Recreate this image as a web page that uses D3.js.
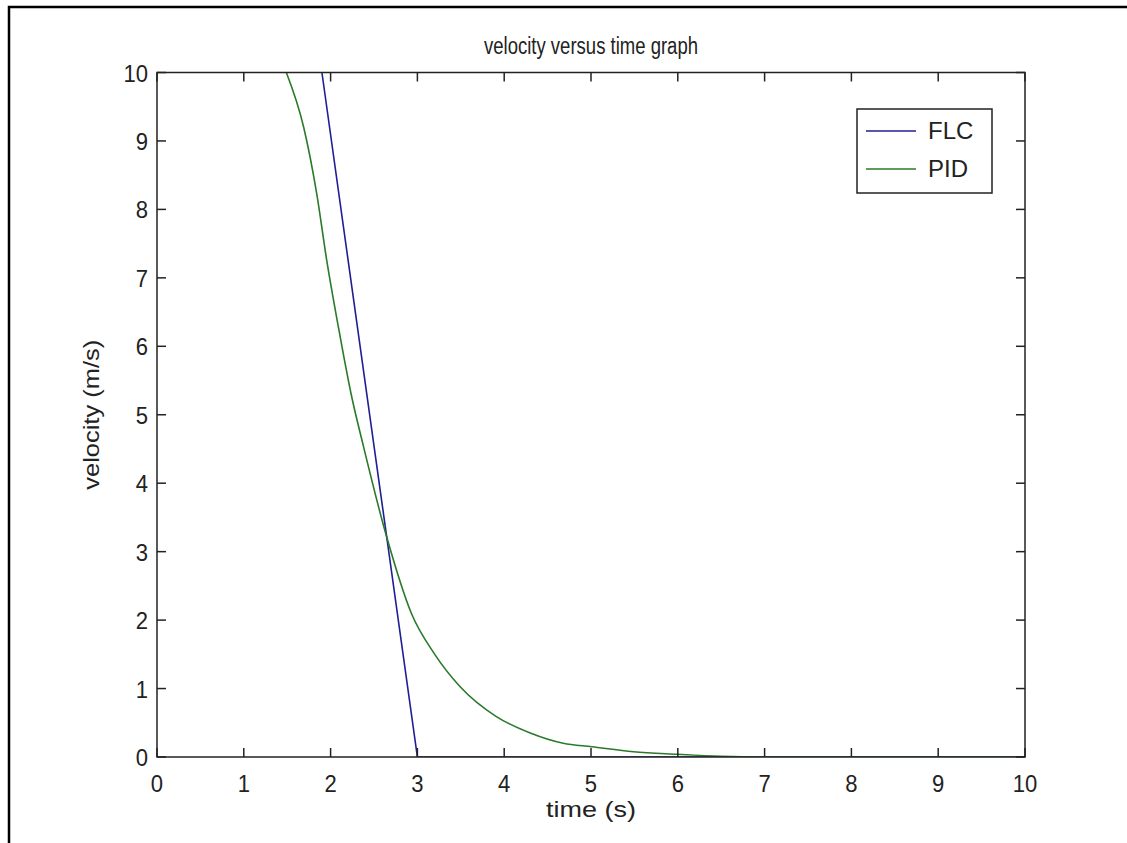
<!DOCTYPE html>
<html>
<head>
<meta charset="utf-8">
<script src="https://cdn.jsdelivr.net/npm/d3@7"></script>
<style>
  html, body { margin: 0; padding: 0; background: #fff; overflow: hidden; }
  svg { display: block; }
  text { font-family: "Liberation Sans", Arial, sans-serif; fill: #222; }
</style>
</head>
<body>
<div id="chart"></div>
<script>
// Data
const seriesNames = ["FLC", "PID"];
const flcTime = [1.90, 3.00, 10];
const flcVel = [10, 0, 0];
const pidTime = [1.49, 1.69, 1.84, 1.955, 2.09, 2.235, 2.38, 2.645, 2.93, 3.2, 3.49, 3.91, 4.30, 4.68, 5.01, 5.49, 5.99, 6.5, 7, 10];
const pidVel = [10, 9.2, 8.23, 7.26, 6.28, 5.31, 4.53, 3.22, 2.10, 1.5, 1.03, 0.59, 0.35, 0.20, 0.15, 0.077, 0.04, 0.01, 0, 0];
const xTicks = [0, 1, 2, 3, 4, 5, 6, 7, 8, 9, 10];
const yTicks = [0, 1, 2, 3, 4, 5, 6, 7, 8, 9, 10];
const colors = ["#1f1f95", "#2a7a2a"];

const W = 1127, H = 843;
const plot = { left: 157, right: 1025, top: 72.5, bottom: 757 };

const svg = d3.select("#chart").append("svg")
  .attr("width", W).attr("height", H);

// outer frame (only left + top edges are in view)
svg.append("path")
  .attr("d", `M9,${H} L9,7 L${W},7`)
  .attr("fill", "none").attr("stroke", "#000").attr("stroke-width", 2.5);

const x = d3.scaleLinear().domain([0, 10]).range([plot.left, plot.right]);
const y = d3.scaleLinear().domain([0, 10]).range([plot.bottom, plot.top]);

svg.append("clipPath").attr("id", "clip")
  .append("rect")
  .attr("x", plot.left).attr("y", plot.top)
  .attr("width", plot.right - plot.left).attr("height", plot.bottom - plot.top);

// text helper; sx squeezes the glyphs, len forces a width
function label(g, tx, ty, str, size, anchor, opts = {}) {
  const t = g.append("text")
    .attr("transform", `translate(${tx},${ty})${opts.rot ? " rotate(" + opts.rot + ")" : ""} scale(${opts.sx || 1},1)`)
    .attr("text-anchor", anchor)
    .style("font-size", size + "px")
    .text(str);
  if (opts.len) t.attr("textLength", opts.len).attr("lengthAdjust", "spacingAndGlyphs");
  return t;
}

// Lines
const line = d3.line().x(d => x(d[0])).y(d => y(d[1])).curve(d3.curveMonotoneX);
const lines = svg.append("g").attr("clip-path", "url(#clip)");
lines.append("path")
  .datum(flcTime.map((t, i) => [t, flcVel[i]]))
  .attr("fill", "none").attr("stroke", colors[0]).attr("stroke-width", 1.6)
  .attr("d", d3.line().x(d => x(d[0])).y(d => y(d[1])));
lines.append("path")
  .datum(pidTime.map((t, i) => [t, pidVel[i]]))
  .attr("fill", "none").attr("stroke", colors[1]).attr("stroke-width", 1.6)
  .attr("d", line);

// Axes box
svg.append("rect")
  .attr("x", plot.left).attr("y", plot.top)
  .attr("width", plot.right - plot.left).attr("height", plot.bottom - plot.top)
  .attr("fill", "none").attr("stroke", "#222").attr("stroke-width", 1.5);

const tickLen = 9;
const axes = svg.append("g").attr("stroke", "#222").attr("stroke-width", 1.5);
xTicks.forEach(t => {
  axes.append("line").attr("x1", x(t)).attr("x2", x(t))
    .attr("y1", plot.bottom).attr("y2", plot.bottom - tickLen);
  axes.append("line").attr("x1", x(t)).attr("x2", x(t))
    .attr("y1", plot.top).attr("y2", plot.top + tickLen);
});
yTicks.forEach(v => {
  axes.append("line").attr("x1", plot.left).attr("x2", plot.left + tickLen)
    .attr("y1", y(v)).attr("y2", y(v));
  axes.append("line").attr("x1", plot.right).attr("x2", plot.right - tickLen)
    .attr("y1", y(v)).attr("y2", y(v));
});

// Tick labels
xTicks.forEach(t => label(svg, x(t), plot.bottom + 35, t, 24, "middle", { sx: 0.92 }));
yTicks.forEach(v => label(svg, plot.left - 9, y(v) + 9, v, 24, "end", { sx: 0.92 }));

// Titles
label(svg, 591, 54, "velocity versus time graph", 23, "middle", { len: 214 });
label(svg, 591, 817, "time (s)", 22, "middle", { len: 90 });
label(svg, 99, (plot.top + plot.bottom) / 2, "velocity (m/s)", 22, "middle", { rot: -90, len: 150 });

// Legend
const legend = svg.append("g");
legend.append("rect")
  .attr("x", 857).attr("y", 109).attr("width", 135).attr("height", 84)
  .attr("fill", "#fff").attr("stroke", "#222").attr("stroke-width", 1.5);
seriesNames.forEach((name, i) => {
  const ly = 131 + i * 38;
  legend.append("line")
    .attr("x1", 866).attr("x2", 916).attr("y1", ly).attr("y2", ly)
    .attr("stroke", colors[i]).attr("stroke-width", 1.6);
  label(legend, 928, ly + 8, name, 24, "start");
});
</script>
</body>
</html>
